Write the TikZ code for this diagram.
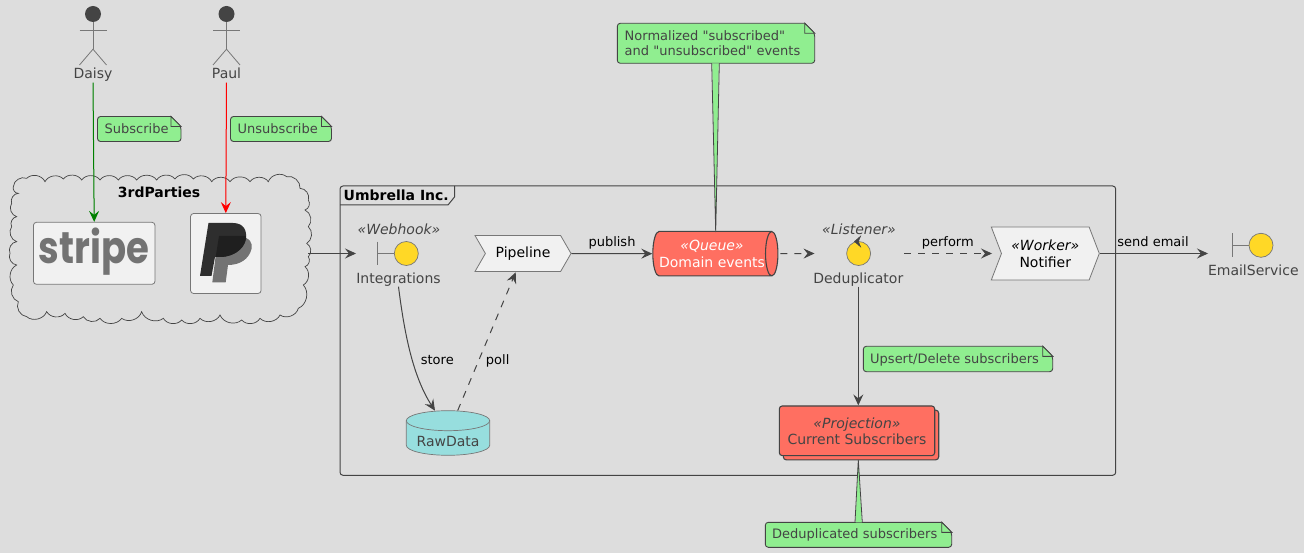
\documentclass[tikz,border=0pt]{standalone}
\usepackage{fontspec}
\setmainfont{DejaVu Sans}
\newfontfamily\logofont{Poppins}
\newfontfamily\plainquotes{DejaVu Sans}
\usetikzlibrary{arrows.meta,calc,shapes.geometric,shapes.symbols}
\definecolor{PageClr}{RGB}{221,221,221}
\definecolor{InkClr}{RGB}{68,68,68}
\definecolor{EdgeClr}{RGB}{119,119,119}
\definecolor{BoxClr}{RGB}{241,241,241}
\definecolor{NoteClr}{RGB}{144,238,144}
\definecolor{TomatoClr}{RGB}{255,111,97}
\definecolor{GoldClr}{RGB}{255,216,38}
\definecolor{TealClr}{RGB}{151,222,222}
\definecolor{LogoClr}{RGB}{115,115,115}
\definecolor{GreenClr}{RGB}{0,128,0}
\tikzset{
  lbl/.style={inner sep=0pt,text height=10pt,text depth=3pt,text=InkClr,font=\fontsize{14}{17}\selectfont},
  stereo/.style={lbl,font=\fontsize{14}{17}\selectfont\itshape},
  edgelbl/.style={inner sep=0pt,text height=9.5pt,text depth=3pt,text=black,font=\fontsize{13}{16}\selectfont},
  notelbl/.style={inner sep=0pt,anchor=west,align=left,text=InkClr,font=\fontsize{13}{15}\selectfont},
  notebox/.style={draw=InkClr,fill=NoteClr,line width=.9pt},
  link/.style={draw=InkClr,line width=1pt,-{Stealth[length=11pt,width=10pt,inset=4pt]}},
  dashlink/.style={link,dash pattern=on 7pt off 7pt},
  ball/.style={circle,draw=EdgeClr,fill=GoldClr,line width=.7pt,minimum size=24pt,inner sep=0pt},
  rail/.style={draw=EdgeClr,line width=.8pt},
  logobox/.style={draw=EdgeClr,fill=BoxClr,rounded corners=3pt,line width=.8pt,inner sep=0pt},
  chevron/.style={signal,signal to=east,signal from=west,draw=EdgeClr,fill=BoxClr,line width=.8pt,inner sep=0pt,align=center,text=black,font=\fontsize{14}{17}\selectfont},
  redbox/.style={draw=InkClr,fill=TomatoClr,rounded corners=3pt,line width=1.1pt,inner sep=0pt,align=center,text=InkClr,font=\fontsize{14}{16}\selectfont},
  actorhead/.style={circle,fill=InkClr,minimum size=16pt,inner sep=0pt},
  dbshape/.style={draw=EdgeClr,fill=TealClr,line width=.7pt},
}
\newcommand{\NoteBack}[4]{%
  \draw[notebox,rounded corners=3pt] (#1,#2+15) -- (#1,#4) -- (#3,#4) -- (#3,#2+10)
    [sharp corners] -- (#3-10,#2) [rounded corners=3pt] -- (#1,#2) -- cycle;
  \draw[notebox] (#3-10,#2) -- (#3-10,#2+10) -- (#3,#2+10) -- cycle;}
\newcommand{\NoteStem}[4]{%
  \fill[NoteClr] (#1+.5,#3) -- (#4) -- (#2-.5,#3) -- cycle;
  \draw[InkClr,line width=.8pt] (#1,#3) -- (#4) -- (#2,#3);}
\begin{document}
\begin{tikzpicture}[x=1pt,y=-1pt]
\useasboundingbox (0,0) rectangle (1304,553);
\fill[PageClr] (0,0) rectangle (1304,553);

\draw[InkClr,line width=1pt,rounded corners=3pt] (340,186) rectangle (1115.7,475.3);
\draw[InkClr,line width=1pt] (340,205) -- (448,205) -- (454.5,197) -- (454.5,186);
\node[inner sep=0pt,anchor=west,text=black,font=\fontsize{14}{17}\selectfont\bfseries] (UmbrellaTitle) at (343.5,195) {Umbrella Inc.};

\draw[InkClr,line width=.7pt] ({40/3},{560/3})
  \foreach \cx/\cy in {80/535,135/545,190/537,245/540,300/540,355/540,410/540,470/540,525/537,580/537,635/545,690/545,750/545,805/545,860/530,900/565,925/600,915/630,925/680,920/730,925/770,915/800,910/855,895/925,840/945,780/955,725/960,660/945,600/955,545/960,490/955,425/935,365/955,300/955,250/950,195/940,140/935,80/950,55/905,40/855,50/795,30/760,50/725,35/680,50/650,35/610,55/580,40/560}{
    to[bend left=55] ({\cx/3},{\cy/3})
  };
\coordinate (ThirdParties) at (308,253.5);
\node[inner sep=0pt,text=black,font=\fontsize{14}{17}\selectfont\bfseries] (ThirdPartiesTitle) at (159,192) {3rdParties};

\node[logobox,minimum width=121.5pt,minimum height=62pt] (StripeBox) at (94.2,253.3) {};
\node[inner sep=0pt,text=LogoClr] (StripeLogo) at (94,252) {\scalebox{1}[1.2]{\logofont\bfseries\fontsize{37}{37}\selectfont stripe}};
\node[logobox,minimum width=70.5pt,minimum height=80pt] (PayPalBox) at (225.8,253.5) {};
\fill[LogoClr] (219,236) -- (240,236) .. controls (250,238) and (253,243) .. (251.5,249) .. controls (249,259) and (240,265) .. (228,265) -- (225.7,282.3) -- (212.3,282.3) -- (215.7,256) -- cycle;
\fill[black!82] (208.5,223) -- (233,223) .. controls (244,223) and (247,231) .. (246,239) .. controls (244,250) and (232,257) .. (220,257) -- (215,257) -- (211.5,276) -- (200,276) -- cycle;
\fill[black!88] (219,236) -- (246,236) .. controls (246.5,246) and (236,257) .. (220,257) -- (215.7,257) -- cycle;

\foreach \who/\px in {Daisy/93,Paul/226.5}{
  \node[actorhead] (\who Head) at (\px,14) {};
  \draw[rail] (\who Head.south) -- ++(0,27) coordinate (\who Hip);
  \draw[rail] (\px-13.5,30.5) -- (\px+13.5,30.5);
  \draw[rail] (\px-13.5,65) -- (\who Hip) -- (\px+13.5,65);
  \node[lbl] (\who) at (\px,75) {\who};
}
\draw[link,draw=GreenClr,fill=GreenClr,shorten <=1pt] (Daisy.south) -- (StripeBox.north);
\draw[link,draw=red,fill=red,shorten <=1pt] (Paul.south) -- (PayPalBox.north);

\NoteBack{97.5}{116.5}{181}{141.5}
\node[notelbl] (SubscribeNote) at (104.5,129) {Subscribe};
\NoteBack{230.5}{116.5}{331.5}{141.5}
\node[notelbl] (UnsubscribeNote) at (237.5,129) {Unsubscribe};

\node[ball] (Integrations) at (406.3,253.5) {};
\draw[rail] (Integrations.west) -- (377.7,253.5) (377.7,241.7) -- (377.7,265.5);
\node[stereo] (WebhookTag) at (399,231) {«Webhook»};
\node[lbl] (IntegrationsLbl) at (398.5,280) {Integrations};
\coordinate (IntegrationsIn) at (356,253.5);
\draw[link] (ThirdParties) -- (IntegrationsIn);

\node[chevron,minimum width=96pt,minimum height=36pt,signal pointer angle=120] (Pipeline) at (523,253.5) {Pipeline};

\node[cylinder,shape aspect=.45,draw=InkClr,fill=TomatoClr,line width=1.1pt,minimum width=44.5pt,minimum height=125pt,
  inner sep=0pt,text=white,align=center,font=\fontsize{14}{17}\selectfont] (DomainEvents) at (712,253.7) {\textit{«Queue»}\\Domain events};
\coordinate (DomainEventsTop) at (715.7,232);
\draw[link] (Pipeline.east) -- (DomainEvents.west);
\node[edgelbl] (PublishLbl) at (612,243.5) {publish};

\draw[dbshape] (406.3,420.7) -- (406.3,445.3) arc[start angle=180,end angle=0,x radius=41.7,y radius=10] -- (489.7,420.7);
\draw[dbshape] (448,420.7) ellipse[x radius=41.7,y radius=10];
\node[lbl] (RawData) at (448,443.2) {RawData};
\coordinate (RawDataIn) at (435,410.7);
\draw[link] (IntegrationsLbl.south) .. controls (404,330) and (412,375) .. (RawDataIn);
\node[edgelbl] (StoreLbl) at (437.3,361) {store};
\coordinate (RawDataOut) at (457.7,410.5);
\coordinate (PipelineIn) at (515.7,272.3);
\draw[dashlink] (RawDataOut) -- (PipelineIn);
\node[edgelbl] (PollLbl) at (497.7,361) {poll};

\node[ball] (Deduplicator) at (858.6,253.5) {};
\draw[fill=InkClr,draw=InkClr] (854.4,241.5) -- (860.7,236) -- (858.4,241.5) -- (860.7,247) -- cycle;
\node[stereo] (ListenerTag) at (859,231) {«Listener»};
\node[lbl] (DeduplicatorLbl) at (858.3,280) {Deduplicator};
\coordinate (DeduplicatorIn) at (814.5,253.5);
\coordinate (DeduplicatorOut) at (904,253.5);
\draw[dashlink,shorten <=2pt] (DomainEvents.east) -- (DeduplicatorIn);

\node[chevron,minimum width=108pt,minimum height=53pt,signal pointer angle=138] (Notifier) at (1045.3,253.5) {\textit{«Worker»}\\Notifier};
\coordinate (NotifierIn) at (992,253.5);
\draw[dashlink] (DeduplicatorOut) -- (NotifierIn);
\node[edgelbl] (PerformLbl) at (947.8,243.5) {perform};

\node[ball] (EmailService) at (1261,245.3) {};
\draw[rail] (EmailService.west) -- (1232.3,245.3) (1232.3,233.3) -- (1232.3,257.3);
\node[lbl] (EmailServiceLbl) at (1253.3,272) {EmailService};
\coordinate (EmailServiceIn) at (1208,253.5);
\draw[link] (Notifier.east) -- (EmailServiceIn);
\node[edgelbl] (SendEmailLbl) at (1153,243.5) {send email};

\node[redbox,minimum width=155.4pt,minimum height=49.7pt] (SubscribersBack) at (861,435) {};
\node[redbox,minimum width=155.4pt,minimum height=49.7pt] (Subscribers) at (857,430.8) {\textit{«Projection»}\\Current Subscribers};
\draw[link] (DeduplicatorLbl.south) -- (DeduplicatorLbl.south |- Subscribers.north);
\coordinate (SubscribersFoot) at (858.3,460);

\NoteBack{863.3}{346.3}{1052.7}{371.7}
\node[notelbl] (UpsertNote) at (870,360) {Upsert/Delete subscribers};

\NoteBack{617.3}{23.3}{814.7}{63.3}
\NoteStem{711.7}{719.3}{63.3}{DomainEventsTop}
\node[notelbl,font=\fontsize{13}{15}\plainquotes] (NormalizedNote) at (624.5,43.5) {Normalized "subscribed"\\and "unsubscribed" events};

\NoteBack{765.3}{522.3}{951.7}{547.3}
\NoteStem{855}{862.3}{522.3}{SubscribersFoot}
\node[notelbl] (DeduplicatedNote) at (772,535) {Deduplicated subscribers};
\end{tikzpicture}
\end{document}
